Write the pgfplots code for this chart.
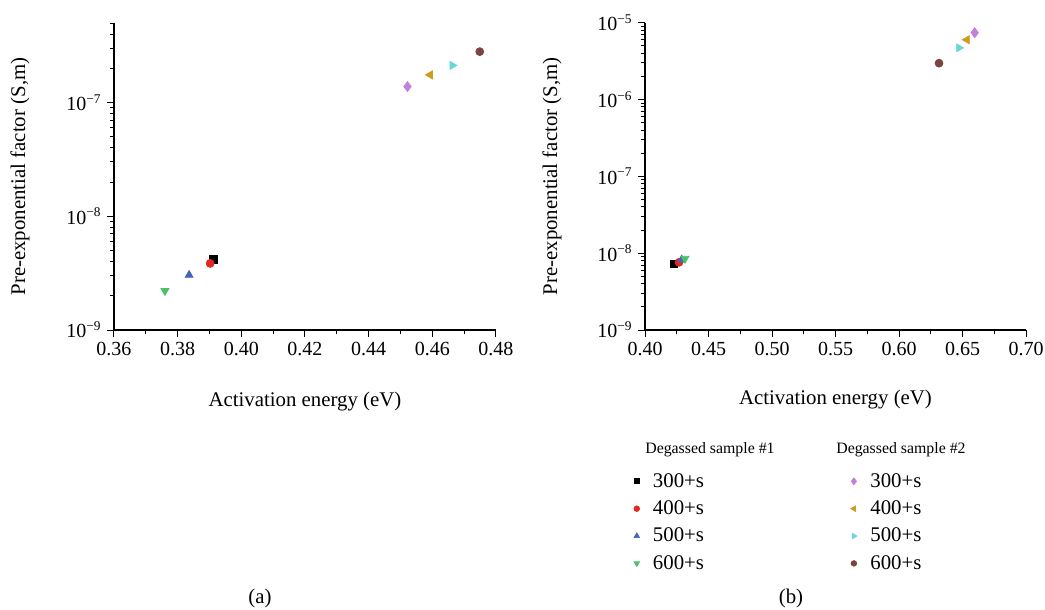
\documentclass[border=0pt]{standalone}
\usepackage{fontspec}
\setmainfont{Liberation Serif}
\usepackage{pgfplots}
\pgfplotsset{compat=1.18}
\definecolor{cA}{HTML}{000000}
\definecolor{cB}{HTML}{E3261F}
\definecolor{cC}{HTML}{4166B5}
\definecolor{cD}{HTML}{4DBE6A}
\definecolor{cE}{HTML}{C47FDB}
\definecolor{cF}{HTML}{D09A1A}
\definecolor{cG}{HTML}{6AD6D8}
\definecolor{cH}{HTML}{7A4540}
\tikzset{
  mA/.style={mark=square*, mark size=2.2pt, color=cA},
  mB/.style={mark=*, mark size=2.4pt, color=cB},
  mC/.style={mark=triangle*, mark size=2.8pt, color=cC},
  mD/.style={mark=triangle*, mark size=2.8pt, color=cD, mark options={rotate=180}},
  mE/.style={mark=diamond*, mark size=3.0pt, color=cE},
  mF/.style={mark=triangle*, mark size=2.8pt, color=cF, mark options={rotate=90}},
  mG/.style={mark=triangle*, mark size=2.8pt, color=cG, mark options={rotate=-90}},
  mH/.style={mark=*, mark size=2.4pt, color=cH},
}
\newcommand{\lf}{\fontsize{12.5}{15}\selectfont\hspace{6pt}}
\begin{document}
\begin{tikzpicture}
\useasboundingbox (0,0) rectangle (627pt,366pt);
% panel (a)
\begin{axis}[
  scale only axis, ymode=log,
  axis lines*=left,
  axis line style={line width=0.8pt},
  tick style={black, line width=0.6pt},
  tick align=outside,
  major tick length=4pt, minor tick length=2.5pt,
  tick label style={font=\fontsize{12}{14}\selectfont},
  label style={font=\fontsize{12.5}{15}\selectfont},
  xlabel={Activation energy (eV)},
  ylabel={Pre-exponential factor (S,m)},
  xlabel style={at={(axis description cs:0.5,-0.234)}, anchor=center},
  ylabel style={at={(axis description cs:-0.246,0.5)}, anchor=center},
  minor x tick num=1,
  clip=false,
  at={(68.4pt,168pt)}, anchor=south west,
  width=229.2pt, height=184.2pt,
  xmin=0.36, xmax=0.48, ymin=1e-9, ymax=5e-7,
  xtick={0.36,0.38,0.40,0.42,0.44,0.46,0.48},
  xticklabels={0.36,0.38,0.40,0.42,0.44,0.46,0.48},
  ytick={1e-9,1e-8,1e-7},
  yticklabels={10\textsuperscript{−9},10\textsuperscript{−8},10\textsuperscript{−7}},
  extra y ticks={2e-9,3e-9,4e-9,5e-9,6e-9,7e-9,8e-9,9e-9,2e-8,3e-8,4e-8,5e-8,6e-8,7e-8,8e-8,9e-8,2e-7,3e-7,4e-7,5e-7},
  extra y tick labels={},
  extra y tick style={major tick length=2.5pt},
]
\addplot[only marks, mA] coordinates {(0.3912,4.17e-9)};
\addplot[only marks, mB] coordinates {(0.3902,3.85e-9)};
\addplot[only marks, mC] coordinates {(0.3836,3.04e-9)};
\addplot[only marks, mD] coordinates {(0.3760,2.21e-9)};
\addplot[only marks, mE] coordinates {(0.4522,1.38e-7)};
\addplot[only marks, mF] coordinates {(0.4593,1.75e-7)};
\addplot[only marks, mG] coordinates {(0.4663,2.12e-7)};
\addplot[only marks, mH] coordinates {(0.4749,2.80e-7)};
\end{axis}
\node[font=\fontsize{12.5}{15}\selectfont] at (156pt,7.2pt) {(a)};
% panel (b)
\begin{axis}[
  scale only axis, ymode=log,
  axis lines*=left,
  axis line style={line width=0.8pt},
  tick style={black, line width=0.6pt},
  tick align=outside,
  major tick length=4pt, minor tick length=2.5pt,
  tick label style={font=\fontsize{12}{14}\selectfont},
  label style={font=\fontsize{12.5}{15}\selectfont},
  xlabel={Activation energy (eV)},
  ylabel={Pre-exponential factor (S,m)},
  xlabel style={at={(axis description cs:0.5,-0.225)}, anchor=center},
  ylabel style={at={(axis description cs:-0.244,0.5)}, anchor=center},
  minor x tick num=1,
  clip=false,
  at={(387pt,168pt)}, anchor=south west,
  width=228.6pt, height=184.4pt,
  xmin=0.40, xmax=0.70, ymin=1e-9, ymax=1e-5,
  xtick={0.40,0.45,0.50,0.55,0.60,0.65,0.70},
  xticklabels={0.40,0.45,0.50,0.55,0.60,0.65,0.70},
  ytick={1e-9,1e-8,1e-7,1e-6,1e-5},
  yticklabels={10\textsuperscript{−9},10\textsuperscript{−8},10\textsuperscript{−7},10\textsuperscript{−6},10\textsuperscript{−5}},
  extra y ticks={2e-9,3e-9,4e-9,5e-9,6e-9,7e-9,8e-9,9e-9,2e-8,3e-8,4e-8,5e-8,6e-8,7e-8,8e-8,9e-8,2e-7,3e-7,4e-7,5e-7,6e-7,7e-7,8e-7,9e-7,2e-6,3e-6,4e-6,5e-6,6e-6,7e-6,8e-6,9e-6},
  extra y tick labels={},
  extra y tick style={major tick length=2.5pt},
  legend columns=2,
  legend style={draw=none, fill=none, at={(axis description cs:-0.043,-0.443)}, anchor=north west,
    font=\fontsize{12.5}{15}\selectfont,
    /tikz/every even column/.append style={column sep=86pt},
    row sep=2.6pt},
  legend cell align=left,
]
\addlegendimage{only marks, mA, mark size=1.5pt}\addlegendentry{\lf 300+s}
\addlegendimage{only marks, mE, mark size=2.1pt}\addlegendentry{\lf 300+s}
\addlegendimage{only marks, mB, mark size=1.7pt}\addlegendentry{\lf 400+s}
\addlegendimage{only marks, mF, mark size=1.9pt}\addlegendentry{\lf 400+s}
\addlegendimage{only marks, mC, mark size=1.9pt}\addlegendentry{\lf 500+s}
\addlegendimage{only marks, mG, mark size=1.9pt}\addlegendentry{\lf 500+s}
\addlegendimage{only marks, mD, mark size=1.9pt}\addlegendentry{\lf 600+s}
\addlegendimage{only marks, mH, mark size=1.7pt}\addlegendentry{\lf 600+s}
\addplot[only marks, mA, forget plot] coordinates {(0.4228,7.2e-9)};
\addplot[only marks, mB, forget plot] coordinates {(0.4268,7.6e-9)};
\addplot[only marks, mC, forget plot] coordinates {(0.4289,8.2e-9)};
\addplot[only marks, mD, forget plot] coordinates {(0.4315,8.5e-9)};
\addplot[only marks, mH, forget plot] coordinates {(0.6315,2.97e-6)};
\addplot[only marks, mG, forget plot] coordinates {(0.6472,4.7e-6)};
\addplot[only marks, mF, forget plot] coordinates {(0.6535,6.0e-6)};
\addplot[only marks, mE, forget plot] coordinates {(0.6596,7.4e-6)};
\end{axis}
\node[anchor=west, inner sep=0pt, font=\fontsize{9.5}{11}\selectfont] at (387pt,96pt) {Degassed sample \#1};
\node[anchor=west, inner sep=0pt, font=\fontsize{9.5}{11}\selectfont] at (501.6pt,96pt) {Degassed sample \#2};
\node[font=\fontsize{12.5}{15}\selectfont] at (474.6pt,7.2pt) {(b)};
\end{tikzpicture}
\end{document}
